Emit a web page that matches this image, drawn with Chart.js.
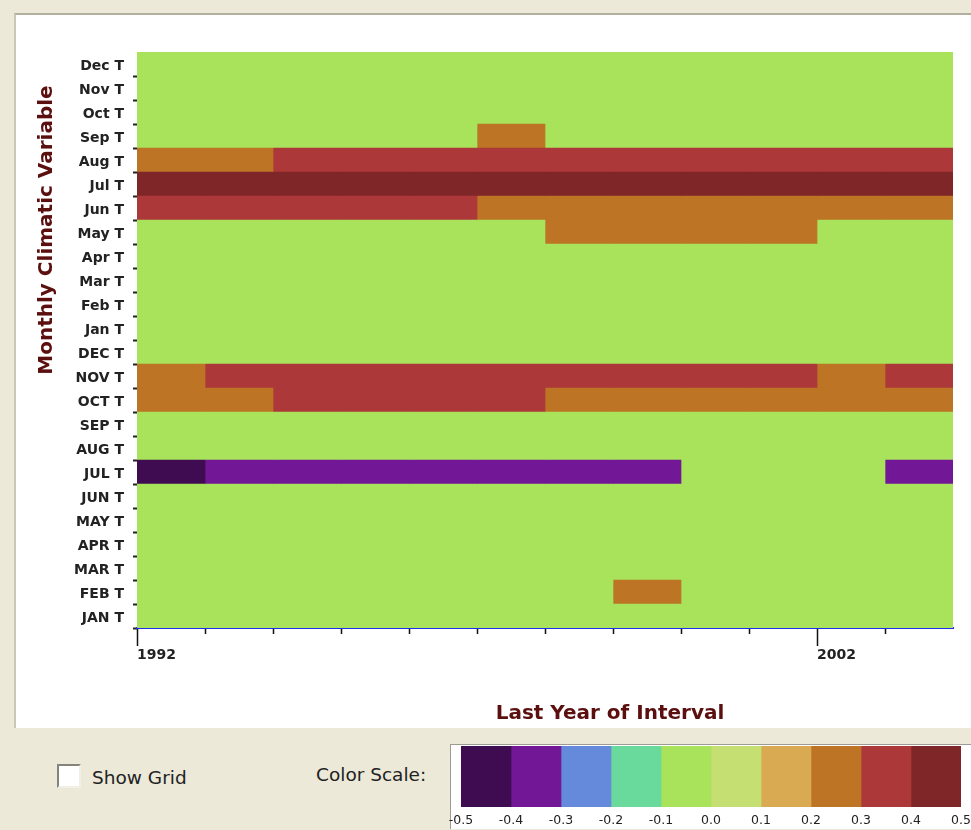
<!DOCTYPE html>
<html>
<head>
<meta charset="utf-8">
<title>Monthly Climatic Variable by Last Year of Interval</title>
<script src="https://cdn.jsdelivr.net/npm/chart.js@4/dist/chart.umd.min.js"></script>
<style>
  html, body { margin: 0; padding: 0; width: 971px; height: 830px; overflow: hidden; background: #ece9d8; }
  #panel { position: absolute; left: 14px; top: 13px; width: 1100px; height: 715px; background: #fff;
           border-top: 2px solid #b3af9f; border-left: 2px solid #cbc7b8; box-sizing: border-box; }
  #heat { position: absolute; left: 0; top: 0; }
  .axis-title { position: absolute; width: 400px; height: 24px; line-height: 24px; text-align: center;
                font-family: "DejaVu Sans", sans-serif; font-weight: bold; font-size: 20px; color: #5b0f0f; white-space: nowrap; }
  #xTitle { left: 410px; top: 700px; }
  #yTitle { left: -155px; top: 218px; transform: rotate(-90deg); transform-origin: 50% 50%; }
  .ctl { position: absolute; font-family: "DejaVu Sans", sans-serif; font-size: 18.5px; color: #222; line-height: 22px; white-space: nowrap; }
  #gridBox { position: absolute; left: 57px; top: 764px; width: 20px; height: 20px; background: #fff;
             border-top: 2px solid #85837a; border-left: 2px solid #85837a; border-right: 2px solid #f1efe6; border-bottom: 2px solid #f1efe6; }
  #scaleBox { position: absolute; left: 450px; top: 744px; width: 600px; height: 84px; background: #fff;
              border-top: 1px solid #9d9b92; border-left: 1px solid #9d9b92; }
  #scale { position: absolute; left: 431px; top: 745px; }
</style>
</head>
<body>
<div id="panel"></div>
<canvas id="heat" width="971" height="730"></canvas>
<div class="axis-title" id="yTitle">Monthly Climatic Variable</div>
<div class="axis-title" id="xTitle">Last Year of Interval</div>

<div id="gridBox"></div>
<div class="ctl" style="left:92px; top:767px;">Show Grid</div>
<div class="ctl" style="left:316px; top:764px;">Color Scale:</div>
<div id="scaleBox"></div>
<canvas id="scale" width="560" height="84"></canvas>

<script>
// Interval end years (one column per year)
const years = [1992, 1993, 1994, 1995, 1996, 1997, 1998, 1999, 2000, 2001, 2002, 2003];
const labeledYears = [1992, 2002];

// Monthly temperature variables, listed top to bottom
const rowLabels = [
  'Dec T', 'Nov T', 'Oct T', 'Sep T', 'Aug T', 'Jul T', 'Jun T', 'May T', 'Apr T', 'Mar T', 'Feb T', 'Jan T',
  'DEC T', 'NOV T', 'OCT T', 'SEP T', 'AUG T', 'JUL T', 'JUN T', 'MAY T', 'APR T', 'MAR T', 'FEB T', 'JAN T'
];

// Correlation per variable (row) and interval (column)
const values = [
  [-0.05, -0.05, -0.05, -0.05, -0.05, -0.05, -0.05, -0.05, -0.05, -0.05, -0.05, -0.05], // Dec T
  [-0.05, -0.05, -0.05, -0.05, -0.05, -0.05, -0.05, -0.05, -0.05, -0.05, -0.05, -0.05], // Nov T
  [-0.05, -0.05, -0.05, -0.05, -0.05, -0.05, -0.05, -0.05, -0.05, -0.05, -0.05, -0.05], // Oct T
  [-0.05, -0.05, -0.05, -0.05, -0.05,  0.25, -0.05, -0.05, -0.05, -0.05, -0.05, -0.05], // Sep T
  [ 0.25,  0.25,  0.35,  0.35,  0.35,  0.35,  0.35,  0.35,  0.35,  0.35,  0.35,  0.35], // Aug T
  [ 0.45,  0.45,  0.45,  0.45,  0.45,  0.45,  0.45,  0.45,  0.45,  0.45,  0.45,  0.45], // Jul T
  [ 0.35,  0.35,  0.35,  0.35,  0.35,  0.25,  0.25,  0.25,  0.25,  0.25,  0.25,  0.25], // Jun T
  [-0.05, -0.05, -0.05, -0.05, -0.05, -0.05,  0.25,  0.25,  0.25,  0.25, -0.05, -0.05], // May T
  [-0.05, -0.05, -0.05, -0.05, -0.05, -0.05, -0.05, -0.05, -0.05, -0.05, -0.05, -0.05], // Apr T
  [-0.05, -0.05, -0.05, -0.05, -0.05, -0.05, -0.05, -0.05, -0.05, -0.05, -0.05, -0.05], // Mar T
  [-0.05, -0.05, -0.05, -0.05, -0.05, -0.05, -0.05, -0.05, -0.05, -0.05, -0.05, -0.05], // Feb T
  [-0.05, -0.05, -0.05, -0.05, -0.05, -0.05, -0.05, -0.05, -0.05, -0.05, -0.05, -0.05], // Jan T
  [-0.05, -0.05, -0.05, -0.05, -0.05, -0.05, -0.05, -0.05, -0.05, -0.05, -0.05, -0.05], // DEC T
  [ 0.25,  0.35,  0.35,  0.35,  0.35,  0.35,  0.35,  0.35,  0.35,  0.35,  0.25,  0.35], // NOV T
  [ 0.25,  0.25,  0.35,  0.35,  0.35,  0.35,  0.25,  0.25,  0.25,  0.25,  0.25,  0.25], // OCT T
  [-0.05, -0.05, -0.05, -0.05, -0.05, -0.05, -0.05, -0.05, -0.05, -0.05, -0.05, -0.05], // SEP T
  [-0.05, -0.05, -0.05, -0.05, -0.05, -0.05, -0.05, -0.05, -0.05, -0.05, -0.05, -0.05], // AUG T
  [-0.45, -0.35, -0.35, -0.35, -0.35, -0.35, -0.35, -0.35, -0.05, -0.05, -0.05, -0.35], // JUL T
  [-0.05, -0.05, -0.05, -0.05, -0.05, -0.05, -0.05, -0.05, -0.05, -0.05, -0.05, -0.05], // JUN T
  [-0.05, -0.05, -0.05, -0.05, -0.05, -0.05, -0.05, -0.05, -0.05, -0.05, -0.05, -0.05], // MAY T
  [-0.05, -0.05, -0.05, -0.05, -0.05, -0.05, -0.05, -0.05, -0.05, -0.05, -0.05, -0.05], // APR T
  [-0.05, -0.05, -0.05, -0.05, -0.05, -0.05, -0.05, -0.05, -0.05, -0.05, -0.05, -0.05], // MAR T
  [-0.05, -0.05, -0.05, -0.05, -0.05, -0.05, -0.05,  0.25, -0.05, -0.05, -0.05, -0.05], // FEB T
  [-0.05, -0.05, -0.05, -0.05, -0.05, -0.05, -0.05, -0.05, -0.05, -0.05, -0.05, -0.05]  // JAN T
];

// Colour scale: bin edges and one colour per bin
const binEdges = [-0.5, -0.4, -0.3, -0.2, -0.1, 0.0, 0.1, 0.2, 0.3, 0.4, 0.5];
const binColors = ['#3f0c52', '#721896', '#6589db', '#69d99c', '#a8e35b',
                   '#c5df72', '#d9aa52', '#bd7425', '#ad383a', '#7f2628'];
const scaleTickLabels = ['-0.5', '-0.4', '-0.3', '-0.2', '-0.1', '0.0', '0.1', '0.2', '0.3', '0.4', '0.5'];

function colorFor(v) {
  for (let i = 0; i < binColors.length; i++) {
    if (v >= binEdges[i] && v < binEdges[i + 1]) return binColors[i];
  }
  return v < binEdges[0] ? binColors[0] : binColors[binColors.length - 1];
}

const clear = 'rgba(0,0,0,0)';
const lastYear = years[years.length - 1];

// Heat map: one floating-bar dataset per interval column
new Chart(document.getElementById('heat'), {
  type: 'bar',
  data: {
    labels: rowLabels,
    datasets: years.map((yr, c) => ({
      data: rowLabels.map(() => [yr, yr + 1]),
      backgroundColor: ctx => (ctx.dataIndex === undefined ? binColors[4] : colorFor(values[ctx.dataIndex][c])),
      borderWidth: 0,
      barPercentage: 1,
      categoryPercentage: 1,
      grouped: false
    }))
  },
  options: {
    indexAxis: 'y',
    responsive: false,
    animation: false,
    devicePixelRatio: 1,
    layout: { padding: { left: 0, top: 52, right: 18, bottom: 62 } },
    plugins: { legend: { display: false }, tooltip: { enabled: false }, title: { display: false } },
    scales: {
      x: {
        type: 'linear',
        position: 'bottom',
        min: years[0],
        max: lastYear + 1,
        z: 1,
        afterFit: s => { s.height = 40; },
        border: { display: true, color: '#1e2ee6', width: 2 },
        grid: {
          display: true,
          drawOnChartArea: false,
          drawTicks: true,
          tickLength: 18,
          tickWidth: 1.5,
          tickColor: ctx => (ctx.tick && ctx.tick.value > lastYear) ? clear : '#111',
          tickBorderDash: ctx => (ctx.tick && labeledYears.includes(ctx.tick.value)) ? [] : [5, 40]
        },
        ticks: {
          stepSize: 1,
          autoSkip: false,
          maxRotation: 0,
          minRotation: 0,
          align: 'start',
          padding: 1,
          color: '#222',
          font: { family: 'DejaVu Sans', weight: 'bold', size: 14 },
          callback: v => (labeledYears.includes(v) ? String(v) : '')
        }
      },
      y: {
        type: 'category',
        position: 'left',
        offset: true,
        afterFit: s => { s.width = 137; },
        border: { display: false },
        grid: {
          display: true,
          offset: true,
          drawOnChartArea: false,
          tickLength: 4,
          tickWidth: 2,
          tickColor: ctx => (ctx.index === 0 ? clear : '#222')
        },
        ticks: {
          autoSkip: false,
          padding: 9,
          labelOffset: 2,
          color: '#222',
          font: { family: 'DejaVu Sans', weight: 'bold', size: 14 }
        }
      }
    }
  }
});

// Colour scale legend: one floating bar per bin along a linear axis
new Chart(document.getElementById('scale'), {
  type: 'bar',
  data: {
    labels: [''],
    datasets: binColors.map((col, i) => ({
      data: [[binEdges[i], binEdges[i + 1]]],
      backgroundColor: col,
      borderWidth: 0,
      barPercentage: 1,
      categoryPercentage: 1,
      grouped: false
    }))
  },
  options: {
    indexAxis: 'y',
    responsive: false,
    animation: false,
    devicePixelRatio: 1,
    layout: { padding: { left: 30, top: 1, right: 30, bottom: 0 } },
    plugins: { legend: { display: false }, tooltip: { enabled: false } },
    scales: {
      y: { display: false },
      x: {
        type: 'linear',
        min: binEdges[0],
        max: binEdges[binEdges.length - 1],
        afterFit: s => { s.height = 22; },
        border: { display: false },
        grid: { display: false, drawTicks: false },
        ticks: {
          stepSize: 0.1,
          autoSkip: false,
          maxRotation: 0,
          minRotation: 0,
          padding: 6,
          color: '#222',
          font: { family: 'DejaVu Sans', size: 12.5 },
          callback: (v, i) => scaleTickLabels[i]
        }
      }
    }
  }
});
</script>
</body>
</html>
